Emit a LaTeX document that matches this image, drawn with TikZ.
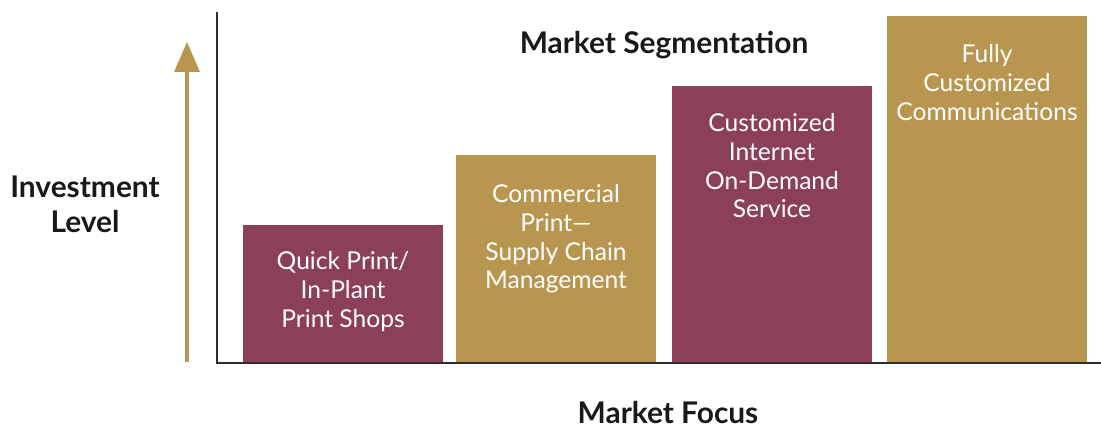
\documentclass[tikz,border=0pt]{standalone}
\usepackage{fontspec}
\setmainfont{Lato}
\definecolor{maroon}{RGB}{140,63,90}
\definecolor{gold}{RGB}{184,150,80}
\definecolor{axisgray}{RGB}{45,45,45}
\begin{document}
\begin{tikzpicture}[x=0.02cm,y=-0.02cm,
  segtext/.style={text=white,align=center,font=\fontsize{14}{16.4}\selectfont,anchor=north,inner sep=0pt},
  heading/.style={font=\fontsize{17}{20}\selectfont\bfseries,text=black!90,align=center,inner sep=0pt}]
\useasboundingbox (0,0) rectangle (1101,428);
% segment bars
\fill[maroon] (243,225) rectangle (443,363);
\fill[gold]   (456,155) rectangle (656,363);
\fill[maroon] (672,86)  rectangle (872,363);
\fill[gold]   (887,16)  rectangle (1087,363);
\node[segtext] (s1) at (343,251) {Quick Print/\\In-Plant\\Print Shops};
\node[segtext] (s2) at (556,184) {Commercial\\Print---\\Supply Chain\\Management};
\node[segtext] (s3) at (772,113) {Customized\\Internet\\On-Demand\\Service};
\node[segtext] (s4) at (987,44)  {Fully\\Customized\\Communications};
% axes
\coordinate (ytop) at (217,12);
\coordinate (origin) at (217,363);
\coordinate (xend) at (1101,363);
\draw[axisgray,line width=1.2pt] (ytop) -- (origin) -- (xend);
% investment arrow
\coordinate (abot) at (187,362);
\coordinate (ashaft) at (187,72);
\coordinate (atip) at (187,42);
\draw[gold,line width=2.2pt] (abot) -- (ashaft);
\fill[gold] (174,72) -- (atip) -- (200,72) -- cycle;
% labels
\node[heading] (title) at (664,45) {Market Segmentation};
\node[heading] (ylab) at (85,204) {Investment\\Level};
\node[heading] (xlab) at (668,413) {Market Focus};
\end{tikzpicture}
\end{document}
